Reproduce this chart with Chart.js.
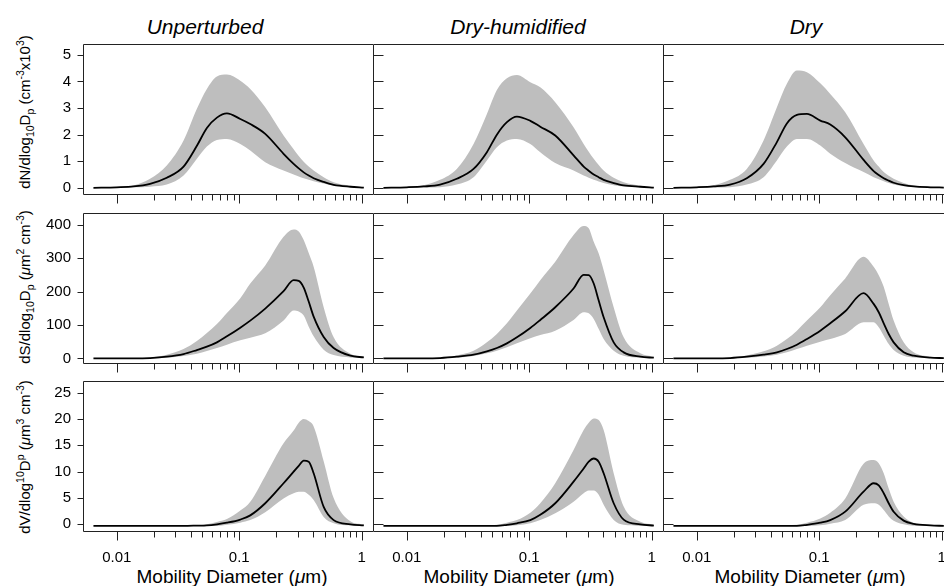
<!DOCTYPE html>
<html>
<head>
<meta charset="utf-8">
<script src="https://cdn.jsdelivr.net/npm/chart.js@4.4.1/dist/chart.umd.min.js"></script>
<style>
    html, body { margin: 0; padding: 0; background: #fff; }
    body { width: 944px; height: 586px; position: relative; overflow: hidden;
           font-family: "Liberation Sans", Arial, Helvetica, sans-serif; color: #000; }
    canvas { position: absolute; }
    .titulo { position: absolute; top: 15px; font-size: 21px; line-height: 24px; font-style: italic;
              transform: translateX(-50%); white-space: nowrap; }
    .eixoX { position: absolute; top: 566px; font-size: 19px; line-height: 22px;
             transform: translateX(-50%); white-space: nowrap; }
    .eixoY { position: absolute; left: 25px; font-size: 15px; line-height: 18px; white-space: nowrap;
             transform: translate(-50%, -50%) rotate(-90deg); }
    sub, sup { font-size: 70%; line-height: 0; }
</style>
</head>
<body>

<div class="titulo" style="left:205px">Unperturbed</div>
<div class="titulo" style="left:518px">Dry-humidified</div>
<div class="titulo" style="left:806px">Dry</div>

<div class="eixoY" style="top:112px">dN/dlog<sub>10</sub>D<sub>p</sub> (cm<sup>-3</sup>x10<sup>3</sup>)</div>
<div class="eixoY" style="top:287px">dS/dlog<sub>10</sub>D<sub>p</sub> (<i>μ</i>m<sup>2</sup> cm<sup>-3</sup>)</div>
<div class="eixoY" style="top:457px">dV/dlog<sup>10</sup>D<sup>p</sup> (<i>μ</i>m<sup>3</sup> cm<sup>-3</sup>)</div>

<div class="eixoX" style="left:232px">Mobility Diameter (<i>μ</i>m)</div>
<div class="eixoX" style="left:519px">Mobility Diameter (<i>μ</i>m)</div>
<div class="eixoX" style="left:810px">Mobility Diameter (<i>μ</i>m)</div>

<script>
// Diâmetros de mobilidade (µm) – mesmos pontos para todos os painéis
const DIAMETROS = [0.00645, 0.0100, 0.0137, 0.0187, 0.0256, 0.0351, 0.0451, 0.0544, 0.0657, 0.0793, 0.102, 0.123,
                   0.163, 0.230, 0.278, 0.306, 0.336, 0.369, 0.405, 0.489, 0.590, 0.808, 1.04];

// Número (cm-3 x10^3): média, limite superior, limite inferior
const N_UNPERT     = [0, 0.02, 0.05, 0.15, 0.38, 0.80, 1.58, 2.25, 2.64, 2.80, 2.59, 2.40, 2.03, 1.28, 0.90, 0.73, 0.58, 0.46, 0.36, 0.22, 0.11, 0.04, 0.01];
const N_UNPERT_SUP = [0, 0.04, 0.09, 0.34, 0.84, 1.78, 2.97, 3.72, 4.19, 4.26, 4.03, 3.72, 3.03, 1.97, 1.45, 1.20, 0.98, 0.80, 0.65, 0.40, 0.21, 0.08, 0.03];
const N_UNPERT_INF = [0, 0.01, 0.02, 0.04, 0.12, 0.46, 1.09, 1.55, 1.80, 1.84, 1.65, 1.40, 0.96, 0.65, 0.50, 0.43, 0.36, 0.30, 0.25, 0.16, 0.08, 0.03, 0.01];

const N_DRYHUM     = [0, 0.02, 0.05, 0.12, 0.34, 0.71, 1.34, 2.00, 2.47, 2.68, 2.52, 2.30, 1.97, 1.22, 0.80, 0.64, 0.50, 0.40, 0.30, 0.18, 0.09, 0.04, 0.01];
const N_DRYHUM_SUP = [0, 0.04, 0.10, 0.30, 0.71, 1.65, 2.78, 3.68, 4.12, 4.24, 3.97, 3.78, 3.22, 2.28, 1.65, 1.36, 1.09, 0.86, 0.65, 0.38, 0.21, 0.08, 0.03];
const N_DRYHUM_INF = [0, 0.01, 0.01, 0.02, 0.12, 0.40, 1.03, 1.53, 1.78, 1.84, 1.65, 1.34, 0.93, 0.65, 0.46, 0.38, 0.30, 0.24, 0.18, 0.10, 0.05, 0.02, 0.01];

const N_DRY        = [0, 0.02, 0.05, 0.12, 0.36, 0.90, 1.72, 2.42, 2.74, 2.78, 2.53, 2.38, 1.90, 1.05, 0.63, 0.48, 0.36, 0.27, 0.19, 0.10, 0.05, 0.02, 0.01];
const N_DRY_SUP    = [0, 0.04, 0.10, 0.30, 0.71, 1.78, 3.03, 3.91, 4.41, 4.35, 3.93, 3.53, 2.84, 1.65, 1.03, 0.80, 0.59, 0.45, 0.34, 0.18, 0.09, 0.04, 0.01];
const N_DRY_INF    = [0, 0.01, 0.01, 0.02, 0.12, 0.40, 1.03, 1.55, 1.84, 1.84, 1.59, 1.28, 0.93, 0.59, 0.40, 0.32, 0.25, 0.18, 0.12, 0.06, 0.03, 0.01, 0];

// Superfície (µm2 cm-3)
const S_UNPERT     = [0, 0, 0, 1, 5, 13, 25, 35, 48, 66, 92, 113, 149, 201, 234, 232, 212, 170, 125, 64, 31, 8, 3];
const S_UNPERT_SUP = [0, 0, 0, 3, 11, 28, 52, 76, 103, 136, 180, 224, 278, 364, 386, 380, 354, 315, 274, 153, 63, 14, 5];
const S_UNPERT_INF = [0, 0, 0, 0, 2, 7, 14, 22, 31, 41, 54, 62, 75, 113, 143, 140, 128, 95, 66, 26, 10, 3, 1];

const S_DRYHUM     = [0, 0, 0, 1, 5, 11, 21, 31, 45, 63, 91, 115, 153, 209, 250, 249, 224, 173, 123, 48, 18, 5, 2];
const S_DRYHUM_SUP = [0, 0, 0, 3, 9, 23, 48, 73, 105, 143, 194, 234, 289, 369, 396, 389, 349, 314, 264, 153, 63, 15, 5];
const S_DRYHUM_INF = [0, 0, 0, 0, 2, 7, 15, 23, 33, 45, 60, 70, 83, 115, 138, 135, 118, 88, 58, 23, 8, 2, 1];

const S_DRY        = [0, 0, 0, 1, 5, 11, 18, 28, 41, 58, 83, 105, 141, 195, 163, 138, 105, 73, 48, 18, 8, 2, 1];
const S_DRY_SUP    = [0, 0, 0, 3, 9, 21, 38, 58, 83, 113, 153, 189, 239, 304, 274, 249, 214, 163, 113, 48, 18, 5, 2];
const S_DRY_INF    = [0, 0, 0, 0, 2, 6, 11, 18, 28, 38, 50, 58, 73, 108, 108, 93, 68, 43, 25, 8, 3, 1, 0];

// Volume (µm3 cm-3)
const V_UNPERT     = [-0.3, -0.3, -0.3, -0.3, -0.3, -0.3, -0.25, -0.2, 0, 0.3, 0.9, 1.7, 4.0, 7.8, 10.0, 11.1, 12.1, 11.9, 9.7, 3.3, 0.8, 0, -0.2];
const V_UNPERT_SUP = [-0.3, -0.3, -0.3, -0.3, -0.3, -0.3, -0.2, 0, 0.45, 1.0, 2.6, 4.3, 9.2, 15.4, 17.8, 19.3, 20.0, 19.6, 18.6, 12.0, 5.0, 0.6, 0];
const V_UNPERT_INF = [-0.3, -0.3, -0.3, -0.3, -0.3, -0.3, -0.3, -0.3, -0.3, -0.1, 0.3, 0.8, 2.3, 4.9, 5.9, 6.2, 6.2, 5.6, 4.6, 1.4, 0.2, -0.2, -0.3];

const V_DRYHUM     = [-0.3, -0.3, -0.3, -0.3, -0.3, -0.3, -0.3, -0.3, -0.1, 0.2, 0.8, 1.8, 4.0, 8.1, 10.6, 11.9, 12.5, 11.9, 9.7, 4.0, 0.9, 0, -0.25];
const V_DRYHUM_SUP = [-0.3, -0.3, -0.3, -0.3, -0.3, -0.3, -0.25, -0.1, 0.3, 0.8, 2.2, 4.0, 7.8, 14.1, 17.9, 19.3, 20.1, 19.8, 17.9, 9.7, 3.4, 0.5, 0];
const V_DRYHUM_INF = [-0.3, -0.3, -0.3, -0.3, -0.3, -0.3, -0.3, -0.3, -0.3, -0.2, 0.2, 0.8, 2.1, 4.3, 5.9, 6.4, 6.4, 5.6, 3.7, 0.8, -0.1, -0.3, -0.3];

const V_DRY        = [-0.3, -0.3, -0.3, -0.3, -0.3, -0.3, -0.3, -0.3, -0.3, -0.1, 0.3, 0.8, 2.4, 6.2, 7.8, 7.4, 5.9, 4.0, 2.4, 0.7, 0.1, -0.2, -0.3];
const V_DRY_SUP    = [-0.3, -0.3, -0.3, -0.3, -0.3, -0.3, -0.3, -0.2, -0.1, 0.3, 1.1, 2.2, 4.9, 11.5, 12.2, 11.6, 9.7, 6.8, 4.3, 1.5, 0.3, -0.1, -0.25];
const V_DRY_INF    = [-0.3, -0.3, -0.3, -0.3, -0.3, -0.3, -0.3, -0.3, -0.3, -0.3, -0.2, 0.1, 0.8, 3.7, 4.0, 3.7, 2.7, 1.5, 0.7, 0, -0.25, -0.3, -0.3];

// Eixos
const TICKS_X = [0.01, 0.1, 1];
const TICKS_N = [0, 1, 2, 3, 4, 5];
const TICKS_S = [0, 100, 200, 300, 400];
const TICKS_V = [0, 5, 10, 15, 20, 25];
const LIMITES_X = [0.0053, 1.236];
const LIMITES_N = [-0.233, 5.41];
const LIMITES_S = [-13.8, 435];
const LIMITES_V = [-1.27, 27.22];

// Geometria: área de plotagem de cada painel
const COLUNAS = [83, 373, 663];
const LINHAS = [43.5, 212.5, 381];
const LARG = 290, ALT = 150;
// o topo precisa comportar meio rótulo + padding do eixo y, senão o Chart.js empurra a área
const PAD_E = 60, PAD_T = 26, PAD_D = 12, PAD_B = 45;

const CINZA = '#bebebe';

Chart.defaults.font.family = '"Liberation Sans", Arial, Helvetica, sans-serif';
Chart.defaults.font.size = 15;
Chart.defaults.color = '#000';

// moldura + marcas dos eixos (menores e maiores) desenhadas a partir das escalas
const moldura = {
    id: 'moldura',
    afterDraw(chart, args, opts) {
        const { ctx, chartArea: a, scales } = chart;
        const L = Math.round(a.left) + 0.5, T = Math.round(a.top) + 0.5, B = Math.round(a.bottom) + 0.5, R = a.right;
        ctx.save();
        ctx.strokeStyle = '#222';
        ctx.lineWidth = 1;
        ctx.beginPath();
        ctx.moveTo(R, T); ctx.lineTo(L, T); ctx.lineTo(L, B); ctx.lineTo(R, B);

        opts.ticksY.forEach((v) => {
            const py = Math.round(scales.y.getPixelForValue(v)) + 0.5;
            if (opts.dentro) { ctx.moveTo(L, py); ctx.lineTo(L + 10, py); }
            else { ctx.moveTo(L - 6, py); ctx.lineTo(L, py); }
        });

        TICKS_X.forEach((v) => {
            const px = Math.round(scales.x.getPixelForValue(v)) + 0.5;
            ctx.moveTo(px, B); ctx.lineTo(px, B + 9);
        });
        [0.01, 0.1].forEach((dec) => {
            for (let k = 2; k <= 9; k++) {
                const px = Math.round(scales.x.getPixelForValue(dec * k)) + 0.5;
                ctx.moveTo(px, B); ctx.lineTo(px, B + 6);
            }
        });
        ctx.stroke();
        ctx.restore();
    }
};

function pontos(valores) {
    return DIAMETROS.map((d, i) => ({ x: d, y: valores[i] }));
}

function desenharPainel(col, lin, media, sup, inf, ticksY, limitesY) {
    const canvas = document.createElement('canvas');
    const w = LARG + PAD_E + PAD_D, h = ALT + PAD_T + PAD_B;
    canvas.width = w;
    canvas.height = h;
    canvas.style.left = (COLUNAS[col] - PAD_E) + 'px';
    canvas.style.top = (LINHAS[lin] - PAD_T) + 'px';
    document.body.appendChild(canvas);

    const linha = { pointRadius: 0, cubicInterpolationMode: 'monotone' };

    new Chart(canvas, {
        type: 'line',
        data: {
            datasets: [
                { ...linha, data: pontos(media), borderColor: '#000', borderWidth: 1.8, fill: false },
                { ...linha, data: pontos(sup), borderColor: 'rgba(0,0,0,0)', borderWidth: 0, backgroundColor: CINZA, fill: '+1' },
                { ...linha, data: pontos(inf), borderColor: 'rgba(0,0,0,0)', borderWidth: 0, fill: false }
            ]
        },
        options: {
            responsive: false,
            animation: false,
            events: [],
            layout: { padding: { top: PAD_T, right: PAD_D, left: 0, bottom: 0 } },
            plugins: {
                legend: { display: false },
                tooltip: { enabled: false },
                moldura: { ticksY, dentro: col > 0 }
            },
            scales: {
                x: {
                    type: 'logarithmic',
                    min: LIMITES_X[0],
                    max: LIMITES_X[1],
                    grid: { display: false, drawTicks: false },
                    border: { display: false },
                    afterBuildTicks: (s) => { s.ticks = TICKS_X.map((v) => ({ value: v })); },
                    afterFit: (s) => { s.height = PAD_B; },
                    ticks: { display: lin === 2, padding: 18, maxRotation: 0, autoSkip: false, callback: (v) => String(v) }
                },
                y: {
                    type: 'linear',
                    min: limitesY[0],
                    max: limitesY[1],
                    grid: { display: false, drawTicks: false },
                    border: { display: false },
                    afterBuildTicks: (s) => { s.ticks = ticksY.map((v) => ({ value: v })); },
                    afterFit: (s) => { s.width = PAD_E; },
                    ticks: { display: col === 0, padding: 12 }
                }
            }
        },
        plugins: [moldura]
    });
}

desenharPainel(0, 0, N_UNPERT, N_UNPERT_SUP, N_UNPERT_INF, TICKS_N, LIMITES_N);
desenharPainel(1, 0, N_DRYHUM, N_DRYHUM_SUP, N_DRYHUM_INF, TICKS_N, LIMITES_N);
desenharPainel(2, 0, N_DRY, N_DRY_SUP, N_DRY_INF, TICKS_N, LIMITES_N);

desenharPainel(0, 1, S_UNPERT, S_UNPERT_SUP, S_UNPERT_INF, TICKS_S, LIMITES_S);
desenharPainel(1, 1, S_DRYHUM, S_DRYHUM_SUP, S_DRYHUM_INF, TICKS_S, LIMITES_S);
desenharPainel(2, 1, S_DRY, S_DRY_SUP, S_DRY_INF, TICKS_S, LIMITES_S);

desenharPainel(0, 2, V_UNPERT, V_UNPERT_SUP, V_UNPERT_INF, TICKS_V, LIMITES_V);
desenharPainel(1, 2, V_DRYHUM, V_DRYHUM_SUP, V_DRYHUM_INF, TICKS_V, LIMITES_V);
desenharPainel(2, 2, V_DRY, V_DRY_SUP, V_DRY_INF, TICKS_V, LIMITES_V);
</script>
</body>
</html>
